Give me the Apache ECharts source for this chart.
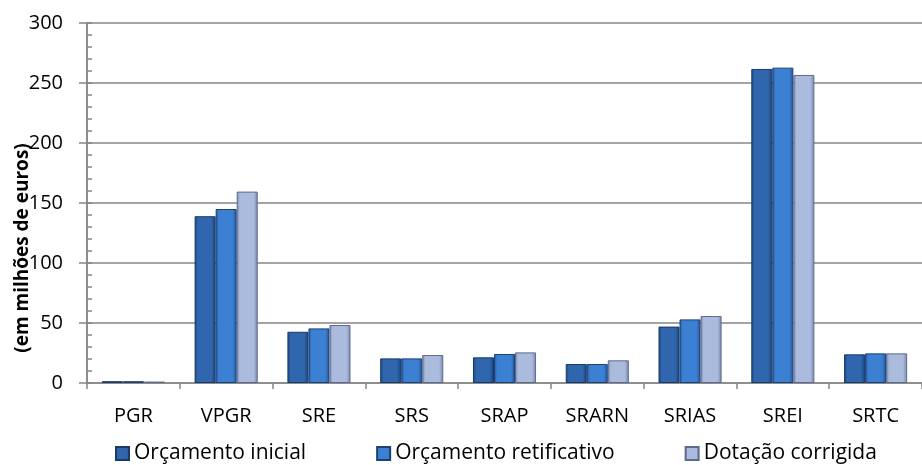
<!DOCTYPE html>
<html>
<head>
<meta charset="utf-8">
<script src="https://cdn.jsdelivr.net/npm/echarts@6/dist/echarts.min.js"></script>
<style>
html,body{margin:0;padding:0;background:#fff;}
#chart{width:922px;height:465px;}
</style>
</head>
<body>
<div id="chart"></div>
<script>
var categories = ['PGR','VPGR','SRE','SRS','SRAP','SRARN','SRIAS','SREI','SRTC'];
var seriesNames = ['Orçamento inicial','Orçamento retificativo','Dotação corrigida'];
var orcamentoInicial = [1.5, 139, 42.7, 20.5, 21.4, 15.8, 47, 261.7, 23.9];
var orcamentoRetificativo = [1.5, 145, 45.5, 20.5, 24.2, 15.8, 53, 262.8, 24.7];
var dotacaoCorrigida = [1.2, 159.5, 48.3, 23.3, 25.5, 18.9, 55.8, 256.7, 24.7];
var yTicks = [0, 50, 100, 150, 200, 250, 300];
var yAxisTitle = '(em milhões de euros)';

var FONT = '"Open Sans", sans-serif';
function hgrad(edge, mid) {
  return new echarts.graphic.LinearGradient(0, 0, 1, 0, [
    {offset: 0, color: edge},
    {offset: 0.15, color: mid},
    {offset: 0.8, color: mid},
    {offset: 1, color: edge}
  ]);
}
var styles = [
  {color: hgrad('#1a4179', '#2f66ad'), borderColor: '#1b3a66', legend: '#2d63aa'},
  {color: hgrad('#22549a', '#3c80d3'), borderColor: '#1e416f', legend: '#3b7fd2'},
  {color: hgrad('#7888b0', '#aabbdd'), borderColor: '#5d6b8a', legend: '#a7b9dc'}
];
var dataSets = [orcamentoInicial, orcamentoRetificativo, dotacaoCorrigida];

var chart = echarts.init(document.getElementById('chart'), null, {renderer: 'canvas'});
var option = {
  animation: false,
  backgroundColor: '#fff',
  textStyle: {fontFamily: FONT},
  grid: {left: 87, right: -8, top: 23, bottom: 82, containLabel: false},
  legend: {
    left: 110, top: 438,
    itemWidth: 13, itemHeight: 13, itemGap: 70,
    icon: 'rect',
    textStyle: {fontFamily: FONT, fontSize: 21, color: '#000'},
    data: seriesNames
  },
  xAxis: {
    type: 'category',
    data: categories,
    axisLine: {lineStyle: {color: '#868686', width: 1.5}},
    axisTick: {show: true, length: 6, lineStyle: {color: '#868686', width: 1.5}},
    axisLabel: {fontFamily: FONT, fontSize: 20, color: '#000', margin: 23}
  },
  yAxis: [{
    type: 'value',
    min: yTicks[0], max: yTicks[yTicks.length - 1], interval: 50,
    axisLine: {show: true, lineStyle: {color: '#868686', width: 1.5}},
    axisTick: {show: true, length: 8, lineStyle: {color: '#868686', width: 1.5}},
    splitLine: {show: true, lineStyle: {color: '#868686', width: 1.5}},
    axisLabel: {fontFamily: FONT, fontSize: 20, color: '#000', margin: 24}
  }, {
    type: 'value',
    position: 'left',
    min: yTicks[0], max: yTicks[yTicks.length - 1], interval: 10,
    axisLine: {show: true, lineStyle: {color: '#868686', width: 1.5}},
    axisTick: {show: true, inside: true, length: 5, lineStyle: {color: '#868686', width: 1.5}},
    splitLine: {show: false},
    axisLabel: {show: false}
  }],
  graphic: [{
    type: 'text',
    x: 23, y: 248,
    rotation: Math.PI / 2,
    style: {
      text: yAxisTitle,
      font: 'bold 19px ' + FONT,
      fill: '#000',
      align: 'center',
      verticalAlign: 'middle'
    }
  }],
  series: seriesNames.map(function (name, i) {
    return {
      name: name,
      type: 'bar',
      data: dataSets[i],
      barGap: '0%',
      barCategoryGap: '32%',
      color: styles[i].legend,
      itemStyle: {color: styles[i].color, borderColor: styles[i].borderColor, borderWidth: 1}
    };
  })
};
chart.setOption(option);
</script>
</body>
</html>
